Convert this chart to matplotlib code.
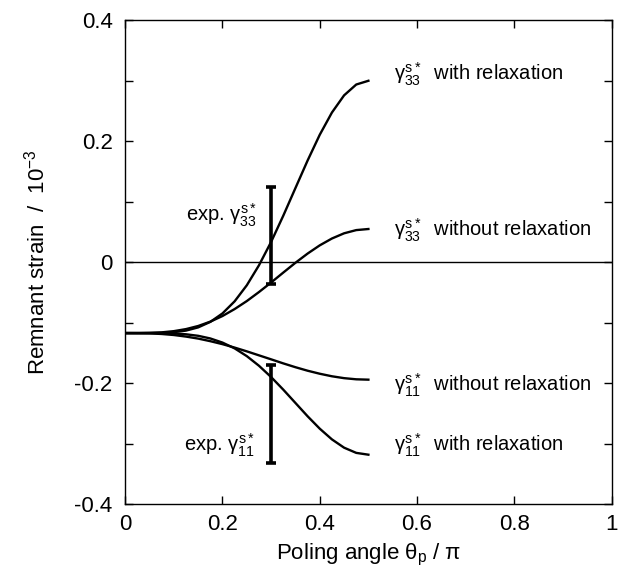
import matplotlib.pyplot as plt

plt.rcParams['font.family'] = ['Liberation Sans', 'DejaVu Sans']
plt.rcParams['mathtext.fontset'] = 'custom'
plt.rcParams['mathtext.rm'] = 'Liberation Sans'
plt.rcParams['mathtext.it'] = 'Liberation Sans'

# poling angle / pi
theta = [0, 0.025, 0.05, 0.075, 0.1, 0.125, 0.15, 0.175, 0.2, 0.225, 0.25,
         0.275, 0.3, 0.325, 0.35, 0.375, 0.4, 0.425, 0.45, 0.475, 0.5]

g33_with = [-0.117, -0.117, -0.1169, -0.1166, -0.1155, -0.1129, -0.1076, -0.0985,
            -0.0845, -0.0645, -0.038, -0.005, 0.0337, 0.077, 0.1227, 0.1682,
            0.2108, 0.2475, 0.2759, 0.2938, 0.300]
g33_without = [-0.117, -0.117, -0.1167, -0.1158, -0.1138, -0.1104, -0.1053, -0.0981,
               -0.0888, -0.0773, -0.0641, -0.0492, -0.0334, -0.017, -0.0008, 0.0144,
               0.028, 0.0393, 0.0479, 0.0532, 0.055]
g11_without = [-0.117, -0.1171, -0.1175, -0.1185, -0.1202, -0.1228, -0.1261, -0.1304,
               -0.1353, -0.141, -0.1472, -0.1538, -0.1604, -0.1671, -0.1734, -0.1792,
               -0.1842, -0.1884, -0.1915, -0.1934, -0.194]
g11_with = [-0.117, -0.117, -0.117, -0.1172, -0.1177, -0.119, -0.1215, -0.1259,
            -0.1327, -0.1423, -0.1551, -0.171, -0.1897, -0.2105, -0.2325, -0.2545,
            -0.275, -0.2927, -0.3064, -0.315, -0.318]

# experimental ranges at theta = 0.3
exp_x = 0.3
exp33 = [-0.036, 0.125]
exp11 = [-0.331, -0.170]

fig = plt.figure(figsize=(6.26, 5.79), dpi=100)
ax = fig.add_axes([0.200, 0.129, 0.777, 0.836])

ax.axhline(0, color='black', lw=1.0)
for y in [g33_with, g33_without, g11_without, g11_with]:
    ax.plot(theta, y, color='black', lw=1.7, solid_joinstyle='round')

for lo, hi in [exp33, exp11]:
    mid = (lo + hi) / 2
    ax.errorbar(exp_x, mid, yerr=(hi - lo) / 2, fmt='none', ecolor='black',
                elinewidth=2.6, capsize=3.5, capthick=2.6)

fs = 14.5
ax.text(0.553, 0.31, r'$\gamma_{33}^{s*}$  with relaxation', fontsize=fs, va='center')
ax.text(0.553, 0.053, r'$\gamma_{33}^{s*}$  without relaxation', fontsize=fs, va='center')
ax.text(0.553, -0.203, r'$\gamma_{11}^{s*}$  without relaxation', fontsize=fs, va='center')
ax.text(0.553, -0.302, r'$\gamma_{11}^{s*}$  with relaxation', fontsize=fs, va='center')
ax.text(0.272, 0.078, r'exp. $\gamma_{33}^{s*}$', fontsize=fs, va='center', ha='right')
ax.text(0.268, -0.302, r'exp. $\gamma_{11}^{s*}$', fontsize=fs, va='center', ha='right')

ax.set_xlim(0, 1)
ax.set_ylim(-0.4, 0.4)
ax.set_xticks([0, 0.2, 0.4, 0.6, 0.8, 1])
ax.set_xticklabels(['0', '0.2', '0.4', '0.6', '0.8', '1'])
ax.set_yticks([-0.4, -0.2, 0, 0.2, 0.4])
ax.set_yticklabels(['-0.4', '-0.2', '0', '0.2', '0.4'])
ax.set_yticks([-0.3, -0.1, 0.1, 0.3], minor=True)
ax.tick_params(which='both', direction='in', top=True, right=True, labelsize=16,
               length=6, width=1)
ax.tick_params(axis='x', pad=7)
ax.tick_params(axis='y', pad=9)
for s in ax.spines.values():
    s.set_linewidth(1.0)

ax.set_xlabel(r'Poling angle $\theta_p$ / $\pi$', fontsize=16, labelpad=5)
ax.set_ylabel(r'Remnant strain  /  $10^{-3}$', fontsize=16, labelpad=18)

fig.savefig('out.png', dpi=100)
